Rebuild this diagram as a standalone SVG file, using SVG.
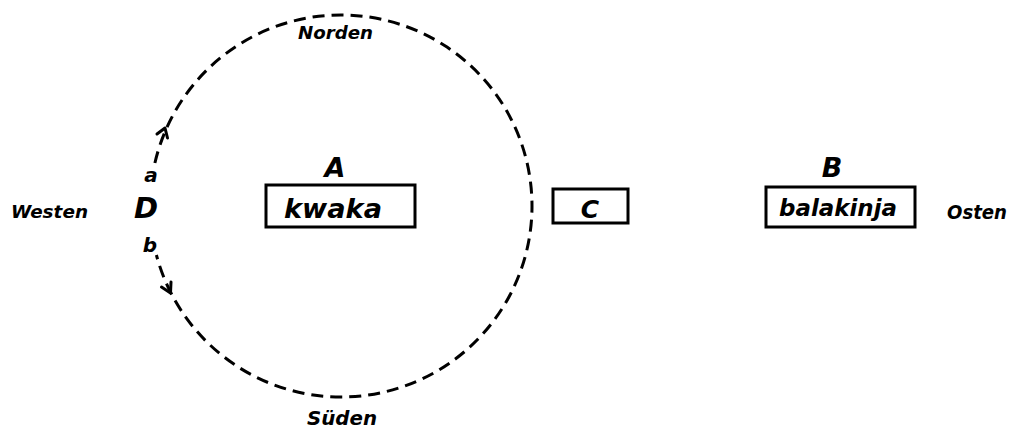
<svg xmlns="http://www.w3.org/2000/svg" width="1012" height="430" viewBox="0 0 1012 430">
<style>
text{font-family:"DejaVu Sans","Liberation Sans",sans-serif;font-weight:bold;font-style:italic;fill:#000}
.box{fill:none;stroke:#000;stroke-width:3}
.c{fill:none;stroke:#000;stroke-width:3;stroke-dasharray:12 7}
.ah{fill:none;stroke:#000;stroke-width:3;stroke-linecap:round;stroke-linejoin:round}
</style>
<rect width="1012" height="430" fill="#fff"/>
<g id="connectors">
<path class="c" d="M 154.9 163 A 191 191 0 1 1 156.4 255"/>
<polyline class="ah" points="157,134 165,128 167.5,138"/>
<polyline class="ah" points="161.5,287 170.5,293 171,282"/>
</g>
<g id="labels">
<text x="298" y="39" font-size="18" textLength="75" lengthAdjust="spacingAndGlyphs">Norden</text>
<text x="307" y="425" font-size="20" textLength="70" lengthAdjust="spacingAndGlyphs">Süden</text>
<text x="11" y="218" font-size="18" textLength="77" lengthAdjust="spacingAndGlyphs">Westen</text>
<text x="947" y="219" font-size="19" textLength="60" lengthAdjust="spacingAndGlyphs">Osten</text>
</g>
<g id="D">
<text x="151" y="182" font-size="20" text-anchor="middle">a</text>
<text x="146" y="218" font-size="29" text-anchor="middle">D</text>
<text x="150" y="252" font-size="20" text-anchor="middle">b</text>
</g>
<g id="A">
<text x="335" y="177" font-size="27" text-anchor="middle">A</text>
<rect class="box" x="266" y="185" width="149" height="42"/>
<text x="284" y="218" font-size="27" textLength="98" lengthAdjust="spacingAndGlyphs">kwaka</text>
</g>
<g id="C">
<rect class="box" x="553" y="189" width="75" height="34"/>
<text x="590" y="218" font-size="25" text-anchor="middle">C</text>
</g>
<g id="B">
<text x="832" y="177" font-size="27" text-anchor="middle">B</text>
<rect class="box" x="766" y="187" width="149" height="40"/>
<text x="779" y="216" font-size="23" textLength="118" lengthAdjust="spacingAndGlyphs">balakinja</text>
</g>
</svg>
